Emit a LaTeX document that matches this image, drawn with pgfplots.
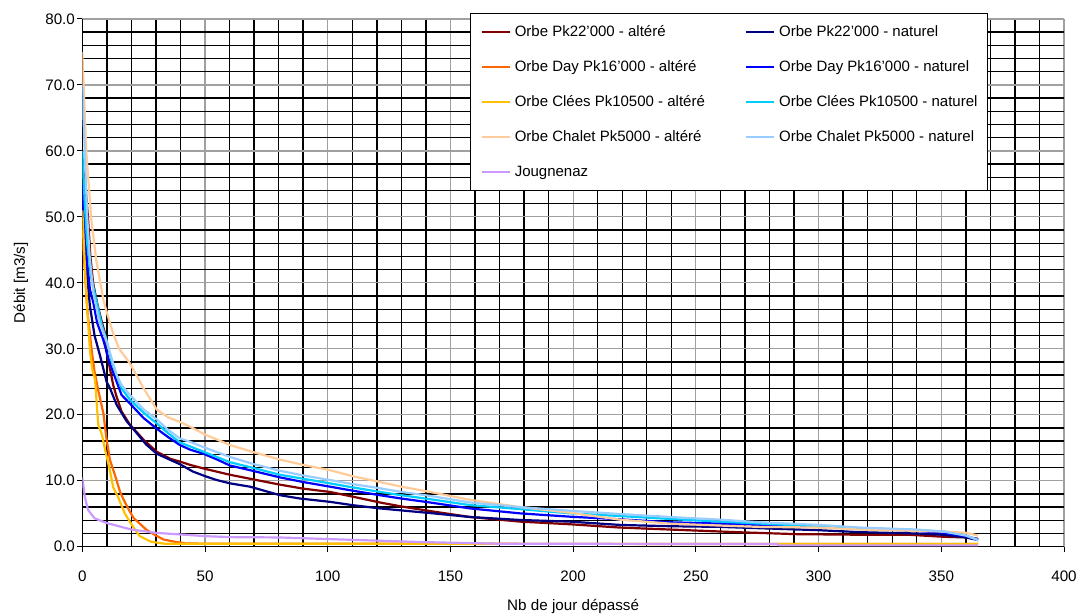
\documentclass[border=0pt]{standalone}
\usepackage{pgfplots}
\pgfplotsset{compat=1.18}
\usepackage{fontspec}
\setmainfont{Liberation Sans}

\definecolor{cDred}{HTML}{800000}
\definecolor{cNavy}{HTML}{000080}
\definecolor{cOrange}{HTML}{FF6600}
\definecolor{cBlue}{HTML}{0000FF}
\definecolor{cGold}{HTML}{FFC000}
\definecolor{cCyan}{HTML}{00CCFF}
\definecolor{cPeach}{HTML}{FFCC99}
\definecolor{cLblue}{HTML}{99CCFF}
\definecolor{cLilac}{HTML}{CC99FF}
\definecolor{gridgray}{HTML}{A0A0A0}

\begin{document}
\fontsize{7.6}{9}\selectfont
\begin{tikzpicture}
\begin{axis}[
  scale only axis,
  width=490.85pt, height=263.85pt,
  xmin=0, xmax=400, ymin=0, ymax=80,
  xtick={0,50,...,400}, ytick={0,10,...,80},
  minor x tick num=4, minor y tick num=4,
  grid=both,
  major grid style={draw=gridgray, line width=0.6pt},
  minor grid style={draw=black, line width=0.7pt},
  axis x line*=bottom, axis y line*=left,
  x axis line style={-}, y axis line style={-},
  axis line style={black, line width=0.6pt},
  tick align=outside, major tick length=2.5pt, minor tick length=0pt,
  tick style={black, line width=0.5pt},
  /pgf/number format/assume math mode=true,
  tick label style={font=\fontsize{7.6}{9}\selectfont},
  yticklabel style={inner sep=0pt, xshift=-1pt, /pgf/number format/.cd, fixed, fixed zerofill, precision=1},
  xticklabel style={yshift=-7pt},
  xlabel={Nb de jour dépassé},
  ylabel={Débit [m3/s]},
  xlabel style={at={(axis description cs:0.5,-0.1137)}, anchor=center},
  ylabel style={at={(axis description cs:-0.0627,0.5)}, anchor=center},
  label style={font=\fontsize{7.6}{9}\selectfont},
  every axis plot/.append style={line width=1.1pt, mark=none},
  legend columns=2,
  legend cell align=left,
  legend image code/.code={\draw[#1] (0pt,0pt) -- (14pt,0pt);},
  legend style={at={(axis description cs:0.395,1.0108)}, anchor=north west,
    draw=black, line width=0.5pt, fill=white,
    inner xsep=5pt, inner ysep=5.8pt, row sep=10.5pt,
    font=\fontsize{7.5}{9}\selectfont,
    nodes={inner sep=0pt, text height=5.5pt, text depth=1.5pt},
    /tikz/every odd column/.append style={column sep=2pt},
    /tikz/every even column/.append style={column sep=20pt}},
]
\coordinate (sw) at (rel axis cs:0,0);
\coordinate (ne) at (rel axis cs:1,1);

% Orbe Pk22'000 - altere
\addplot[cDred] coordinates {
(0,58) (1.2,55) (2.3,50) (3.3,44) (4.4,40) (6,37) (8,34) (9.3,32.3) (9.9,29.5)
(12.6,24.5) (14,22.7) (16,20.5) (19.4,18.5) (25,16.2) (30.3,14.4) (36,13.3)
(39.8,12.9) (43.9,12.4) (50,11.8) (60.2,10.9) (68.3,10.3) (80.6,9.4) (90,8.8)
(100.9,8.3) (110,7.6) (121.3,6.7) (130,6.1) (141.7,5.4) (158,4.5) (178.4,3.8)
(198.7,3.4) (219,2.9) (239.5,2.6) (266.7,2.2) (291,1.9) (320,1.8) (337,1.8)
(351,1.5) (360,1.4) (365,1.2)};
\addlegendentry{Orbe Pk22'000 - altéré}

% Orbe Pk22'000 - naturel
\addplot[cNavy] coordinates {
(0,53) (1,46) (2,41) (3.1,36.5) (5,32) (7.2,29) (9.9,25) (11.3,24) (14,21.5)
(18.1,19) (22,17.3) (26,15.5) (30.3,14.1) (35,13.3) (39.8,12.5) (45,11.4)
(50,10.7) (54.8,10.1) (60.2,9.6) (68.3,9.1) (80.6,7.8) (88.7,7.3) (100.9,6.8)
(110,6.3) (121.3,5.8) (130,5.5) (141.7,5.1) (158,4.5) (178.4,4.05) (198.7,3.8)
(219,3.3) (239.5,3.1) (260,3.0) (276,2.8) (300,2.5) (317,2.2) (340,2.0)
(351,1.8) (360,1.4) (365,1.0)};
\addlegendentry{Orbe Pk22'000 - naturel}

% Orbe Day Pk16'000 - altere
\addplot[cOrange] coordinates {
(0,48) (1,42) (2,36) (3.8,29.8) (5,26.5) (6.5,23.7) (8.6,20.2) (9.8,16.5)
(11.3,13.1) (13.2,11) (15.4,8.3) (17,7) (19.4,5.3) (21,4.3) (23.4,3.5) (26,2.6)
(29.5,1.8) (33,1.1) (37.6,0.75) (42,0.5) (50,0.45) (365,0.4)};
\addlegendentry{Orbe Day Pk16'000 - altéré}

% Orbe Day Pk16'000 - naturel
\addplot[cBlue] coordinates {
(0,55) (1,48) (2,43) (3.1,39) (4.5,37) (6,34) (8.6,31.3) (11,28) (14,25)
(16,23) (19.4,21.7) (25,19.5) (30.3,17.9) (35,16.6) (39.8,15.4) (44,14.7)
(49.3,14.1) (55,13.2) (60.2,12.3) (68.3,11.6) (80.6,10.5) (90,9.8) (100.9,9.1)
(110,8.5) (121.3,7.8) (130,7.3) (141.7,6.7) (158,5.8) (178.4,5.05) (198.7,4.55)
(219,4.15) (239.5,3.7) (260,3.5) (276,3.3) (300,3.0) (317,2.7) (340,2.4)
(351,2.1) (360,1.6) (365,1.1)};
\addlegendentry{Orbe Day Pk16'000 - naturel}

% Orbe Clees Pk10500 - altere
\addplot[cGold] coordinates {
(0,51) (1,43) (1.8,37.4) (3.1,29.8) (4,27) (5.2,25.3) (6.5,18.5) (8,17)
(9.3,14.7) (11.2,11.6) (12.6,9) (14.5,7.6) (17.3,5.05) (20.7,3.0) (23.4,1.6)
(28,0.75) (33.5,0.45) (365,0.4)};
\addlegendentry{Orbe Clées Pk10500 - altéré}

% Orbe Clees Pk10500 - naturel
\addplot[cCyan] coordinates {
(0,60) (1,52) (2,46) (3.5,41) (5.9,37) (8,33.5) (9.9,31.3) (12,28) (14,26)
(16,24) (19.4,22.3) (25,20.3) (30.3,18.7) (35,17.2) (39.8,15.8) (43.9,15.2)
(50,14.3) (60.2,12.8) (70,11.9) (80.6,10.9) (90,10.3) (100.9,9.6) (110,9.0)
(121.3,8.3) (130,7.8) (141.7,7.2) (158,6.3) (178.4,5.7) (198.7,5.05) (219,4.65)
(239.5,4.2) (260,3.8) (276,3.5) (300,3.1) (317,2.8) (340,2.5) (351,2.3)
(360,1.7) (365,1.0)};
\addlegendentry{Orbe Clées Pk10500 - naturel}

% Orbe Chalet Pk5000 - altere
\addplot[cPeach] coordinates {
(0,75) (1.6,60) (3.7,49.5) (5.7,43.4) (8.6,37.4) (10,35.5) (12.6,32.3) (15,30)
(19.4,27.8) (25,24) (30.3,20.8) (35,19.6) (39.8,18.9) (43.9,18.2) (50,17)
(60.2,15.4) (70,14.3) (80.6,13.2) (90,12.4) (100.9,11.6) (110,10.7) (121.3,9.8)
(130,9.1) (141.7,8.3) (158,7.1) (178.4,6.0) (198.7,5.15) (219,4.1) (239.5,3.5)
(260,3.2) (276,3.0) (300,2.9) (317,2.6) (340,2.4) (351,2.3) (360,2.1) (365,1.7)};
\addlegendentry{Orbe Chalet Pk5000 - altéré}

% Orbe Chalet Pk5000 - naturel
\addplot[cLblue] coordinates {
(0,70) (1,60) (2,50) (3,44) (4.5,38.5) (7,34) (9.3,31.8) (12,28.5) (14,26)
(16,24.5) (19.4,23) (25,20.8) (30.3,19.3) (35,17.7) (39.8,16.4) (43.9,15.9)
(50,15) (60.2,13.6) (70,12.5) (80.6,11.5) (90,10.8) (100.9,10.1) (110,9.5)
(121.3,8.85) (130,8.3) (141.7,7.7) (158,6.7) (178.4,6.0) (198.7,5.45) (219,4.95)
(239.5,4.5) (260,4.1) (276,3.7) (300,3.3) (317,2.9) (340,2.6) (351,2.3)
(360,1.7) (365,1.0)};
\addlegendentry{Orbe Chalet Pk5000 - naturel}

% Jougnenaz
\addplot[cLilac] coordinates {
(0,10.5) (1,7.6) (2.3,5.6) (5,4.3) (9.8,3.6) (20,2.6) (30,2.1) (40,1.85)
(50,1.6) (60,1.45) (80,1.4) (113,1.0) (138,0.7) (170,0.45) (283,0.4) (284,0.2)
(365,0.2)};
\addlegendentry{Jougnenaz}
\end{axis}
\pgfresetboundingbox
\path ([shift={(-41.15pt,-34.15pt)}]sw) rectangle ([shift={(7pt,9.5pt)}]ne);
\end{tikzpicture}
\end{document}
